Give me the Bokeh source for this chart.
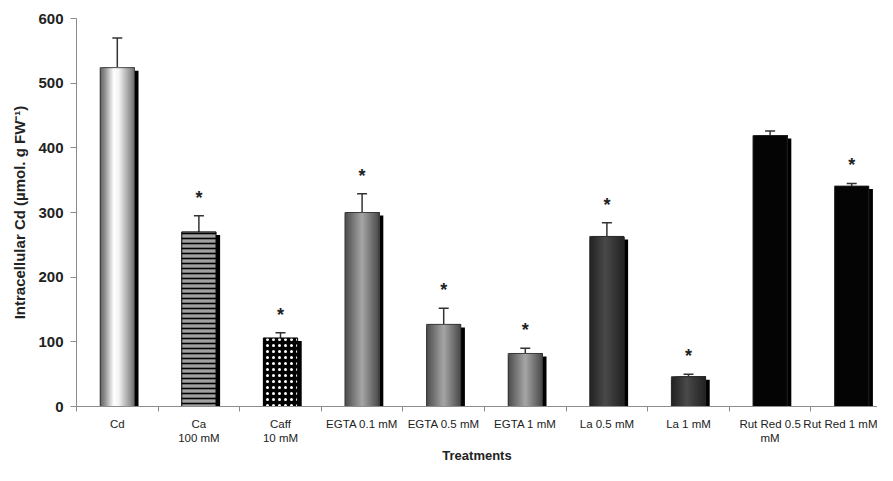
import numpy as np
from bokeh.plotting import figure
from bokeh.models import Range1d, FixedTicker, Whisker, ColumnDataSource, TeeHead
from bokeh.embed import file_html
from bokeh.resources import INLINE
from bokeh.core.properties import value

# ---------------- data ----------------
treatments = ["Cd", "Ca\n100 mM", "Caff\n10 mM", "EGTA 0.1 mM", "EGTA 0.5 mM",
              "EGTA 1 mM", "La 0.5 mM", "La 1 mM", "Rut Red 0.5\nmM", "Rut Red 1 mM"]
means = [524, 270, 106, 300, 127, 82, 263, 46, 419, 341]
errors = [46, 25, 8, 29, 25, 8, 21, 4, 7, 4]
significant = [False, True, True, True, True, True, True, True, False, True]
y_ticks = [0, 100, 200, 300, 400, 500, 600]
x_title = "Treatments"
y_title = "Intracellular Cd (µmol. g FW⁻¹)"

# ---------------- styles ----------------
styles = ["cyl", "hatch_h", "checker", "mid", "mid", "mid", "dark", "dark", "black", "black"]
profiles = {
    "cyl": ([0, 0.15, 0.4, 0.55, 1.0], [0x60, 0x95, 0xff, 0xf2, 0x70]),
    "mid": ([0, 0.5, 1.0], [0x4c, 0xa6, 0x48]),
    "dark": ([0, 0.45, 1.0], [0x22, 0x4a, 0x22]),
    "black": ([0, 1.0], [0x05, 0x05]),
}
FONT = "Liberation Sans"
TXT = "#222222"
AX = "#8c8c8c"

n = len(means)
centers = [i + 0.5 for i in range(n)]
boundaries = list(range(n + 1))
main_w = 0.42
shadow_w = 0.05

W, H = 877, 465
BL, BT = 76, 18
PX = (H - BT - 60) / 600.0  # approx px per data unit

p = figure(width=W, height=H, output_backend="svg", toolbar_location=None,
           x_range=Range1d(0, (W - BL) / 81.6), y_range=Range1d(0, 600),
           min_border_left=BL, min_border_right=0, min_border_top=BT, min_border_bottom=10)
p.outline_line_color = None
p.xgrid.visible = False
p.ygrid.visible = False
p.background_fill_color = "white"
p.border_fill_color = "white"

# shadows
sh_x = [c - main_w / 2 + (main_w + shadow_w) / 2 for c in centers]
sh_top = [m - 3 / PX for m in means]
p.vbar(x=sh_x, width=main_w + shadow_w, top=sh_top, bottom=0, fill_color="black", line_color=None)

# gradient slices (each slice from its left edge to the bar's right edge, painted in order)
N = 30
gx, gw, gt, gc = [], [], [], []
for i, c in enumerate(centers):
    s = styles[i]
    if s not in profiles:
        continue
    stops, levels = profiles[s]
    left = c - main_w / 2
    right = c + main_w / 2
    sw = main_w / N
    for k in range(N):
        t = (k + 0.5) / N
        g = int(round(np.interp(t, stops, levels)))
        l = left + k * sw
        gx.append((l + right) / 2)
        gw.append(right - l)
        gt.append(means[i])
        gc.append("#%02x%02x%02x" % (g, g, g))
p.vbar(x=gx, width=gw, top=gt, bottom=0, fill_color=gc, line_color=None)

# patterned bars
for i, c in enumerate(centers):
    if styles[i] == "hatch_h":
        p.vbar(x=[c], width=main_w, top=[means[i]], bottom=0, fill_color="#a0a0a0",
               hatch_pattern="horizontal_line", hatch_color="black", hatch_scale=5,
               hatch_weight=1.6, line_color="black", line_width=1)
    elif styles[i] == "checker":
        p.vbar(x=[c], width=main_w, top=[means[i]], bottom=0, fill_color="black",
               hatch_pattern="dot", hatch_color="white", hatch_scale=6,
               hatch_weight=4, line_color="black", line_width=1)

# outline on gradient bars
ox = [c for i, c in enumerate(centers) if styles[i] in profiles]
ot = [means[i] for i in range(n) if styles[i] in profiles]
p.vbar(x=ox, width=main_w, top=ot, bottom=0, fill_color=None, line_color="#2a2a2a", line_width=0.8)

# error bars
upper = [m + e for m, e in zip(means, errors)]
esrc = ColumnDataSource(dict(base=centers, lower=means, upper=upper))
p.add_layout(Whisker(source=esrc, base="base", lower="lower", upper="upper", dimension="height",
                     line_color="#333333", line_width=1.5, lower_head=None,
                     upper_head=TeeHead(size=10, line_color="#333333", line_width=1.5)))

# significance stars
sx = [c for i, c in enumerate(centers) if significant[i]]
sy = [upper[i] + 18 / PX for i in range(n) if significant[i]]
p.text(x=sx, y=sy, text=["*"] * len(sx), text_align="center", text_baseline="middle",
       text_font=value(FONT), text_font_size="18px", text_font_style="bold",
       text_color=TXT)

# x axis: labels at category centres, tick marks (minor) at category boundaries
ax = p.xaxis[0]
ax.ticker = FixedTicker(ticks=centers, minor_ticks=boundaries)
ax.major_label_overrides = {c: t for c, t in zip(centers, treatments)}
ax.major_tick_out = 0
ax.major_tick_in = 0
ax.minor_tick_out = 5
ax.minor_tick_in = 0
ax.minor_tick_line_color = AX
ax.axis_line_color = AX
ax.major_label_text_font = FONT
ax.major_label_text_font_size = "11.5px"
ax.major_label_text_color = TXT
ax.major_label_standoff = 6
ax.axis_label = x_title
ax.axis_label_text_font = FONT
ax.axis_label_text_font_size = "13px"
ax.axis_label_text_font_style = "bold"
ax.axis_label_text_color = TXT
ax.axis_label_standoff = 1

ay = p.yaxis[0]
ay.ticker = FixedTicker(ticks=y_ticks)
ay.major_tick_out = 6
ay.major_tick_in = 0
ay.minor_tick_out = 0
ay.minor_tick_in = 0
ay.major_tick_line_color = AX
ay.axis_line_color = AX
ay.major_label_text_font = FONT
ay.major_label_text_font_size = "15px"
ay.major_label_text_font_style = "bold"
ay.major_label_text_color = TXT
ay.major_label_standoff = 7
ay.axis_label = y_title
ay.axis_label_text_font = FONT
ay.axis_label_text_font_size = "15px"
ay.axis_label_text_font_style = "bold"
ay.axis_label_text_color = TXT
ay.axis_label_standoff = 7

open("out.html", "w").write(file_html(p, INLINE))
